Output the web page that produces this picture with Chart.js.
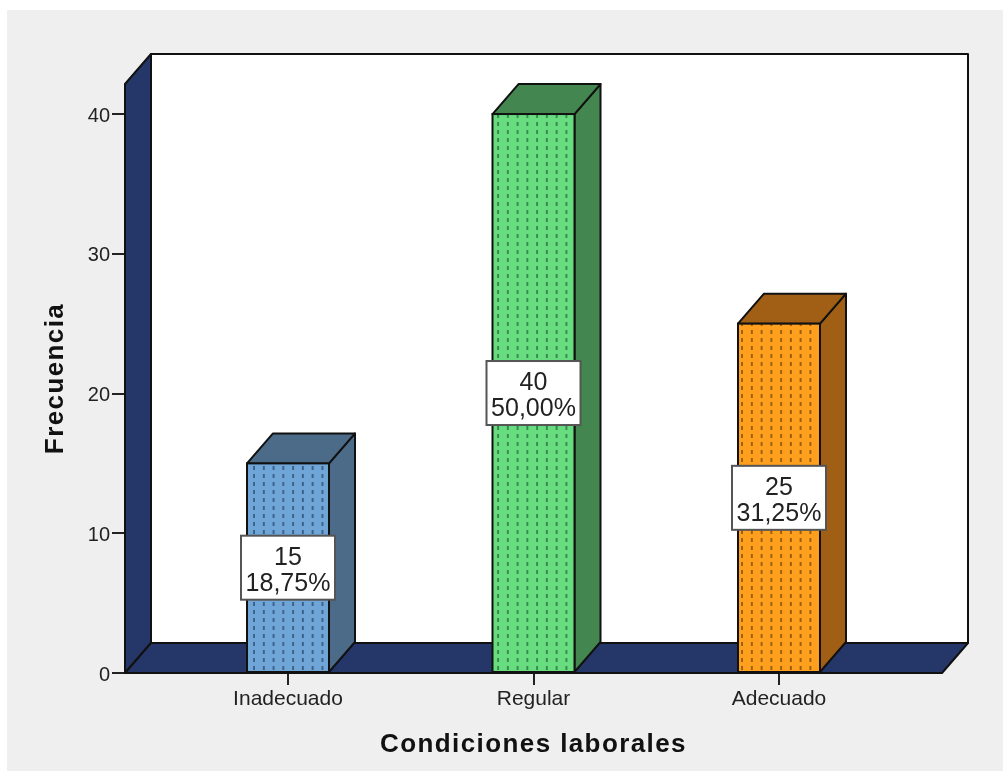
<!DOCTYPE html>
<html lang="es">
<head>
<meta charset="utf-8">
<title>Condiciones laborales</title>
<script src="https://cdn.jsdelivr.net/npm/chart.js@4"></script>
<style>
  html, body { margin: 0; padding: 0; background: #fff; }
  #wrap { position: absolute; left: 0; top: 0; width: 1003px; height: 771px; }
  canvas { display: block; }
</style>
</head>
<body>
<div id="wrap"><canvas id="grafico" width="1003" height="771"></canvas></div>
<script>
const categories = ["Inadecuado", "Regular", "Adecuado"];
const frecuencias = [15, 40, 25];
const porcentajes = ["18,75%", "50,00%", "31,25%"];
const yTicks = [0, 10, 20, 30, 40];

const frontColors = ["#70a5d8", "#67dd80", "#ff9f1e"];
const sideColors = ["#4b6b88", "#43864f", "#a05f14"];
const dotColors = ["#3d6288", "#3a8a50", "#9a6010"];
const wallColor = "#253668";
const panelColor = "#efefef";

// how far the box recedes towards the back wall
const DEPTH_X = 26;
const DEPTH_Y = -30;
const FONT = '"Liberation Sans", Arial, sans-serif';

function dotPattern(bg, dot) {
  const tile = document.createElement("canvas");
  tile.width = 10;
  tile.height = 8;
  const c = tile.getContext("2d");
  c.fillStyle = bg;
  c.fillRect(0, 0, 10, 8);
  c.fillStyle = dot;
  c.fillRect(0, 2, 2, 4);
  const pattern = c.createPattern(tile, "repeat");
  pattern.setTransform(new DOMMatrix().translate(-0.7, 0).scale(0.976, 1));
  return pattern;
}

function poly(ctx, pts, fill) {
  ctx.beginPath();
  pts.forEach((p, i) => (i ? ctx.lineTo(p[0], p[1]) : ctx.moveTo(p[0], p[1])));
  ctx.closePath();
  ctx.fillStyle = fill;
  ctx.fill();
  ctx.stroke();
}

// grey panel behind everything, white back wall, navy side wall and floor
const walls = {
  id: "walls",
  beforeDraw(chart) {
    const ctx = chart.ctx;
    ctx.save();
    ctx.fillStyle = panelColor;
    ctx.fillRect(7, 10, chart.width - 7, chart.height - 10);
    ctx.restore();
  },
  beforeDatasetsDraw(chart) {
    const { ctx, chartArea: a } = chart;
    ctx.save();
    ctx.strokeStyle = "#111";
    ctx.lineWidth = 2;
    ctx.lineJoin = "round";
    poly(ctx, [[a.left + DEPTH_X, a.top + DEPTH_Y], [a.right + DEPTH_X, a.top + DEPTH_Y],
      [a.right + DEPTH_X, a.bottom + DEPTH_Y], [a.left + DEPTH_X, a.bottom + DEPTH_Y]], "#fff");
    poly(ctx, [[a.left, a.top], [a.left + DEPTH_X, a.top + DEPTH_Y],
      [a.left + DEPTH_X, a.bottom + DEPTH_Y], [a.left, a.bottom]], wallColor);
    poly(ctx, [[a.left, a.bottom], [a.left + DEPTH_X, a.bottom + DEPTH_Y],
      [a.right + DEPTH_X, a.bottom + DEPTH_Y], [a.right, a.bottom]], wallColor);
    // side and top of each bar sit behind the front face
    chart.getDatasetMeta(0).data.forEach((bar, i) => {
      const l = bar.x - bar.width / 2;
      const r = bar.x + bar.width / 2;
      poly(ctx, [[r, bar.y], [r + DEPTH_X, bar.y + DEPTH_Y],
        [r + DEPTH_X, bar.base + DEPTH_Y], [r, bar.base]], sideColors[i]);
      poly(ctx, [[l, bar.y], [l + DEPTH_X, bar.y + DEPTH_Y],
        [r + DEPTH_X, bar.y + DEPTH_Y], [r, bar.y]], sideColors[i]);
    });
    ctx.restore();
  },
  afterDatasetsDraw(chart) {
    const ctx = chart.ctx;
    ctx.save();
    chart.getDatasetMeta(0).data.forEach((bar, i) => {
      // outline of the front face
      ctx.strokeStyle = "#111";
      ctx.lineWidth = 2;
      ctx.strokeRect(bar.x - bar.width / 2, bar.y, bar.width, bar.base - bar.y);

      // value box, centred on the bar
      const cy = (bar.y + bar.base) / 2;
      ctx.fillStyle = "#fff";
      ctx.strokeStyle = "#555";
      ctx.fillRect(bar.x - 47, cy - 32, 94, 64);
      ctx.strokeRect(bar.x - 47, cy - 32, 94, 64);
      ctx.fillStyle = "#222";
      ctx.font = "25px " + FONT;
      ctx.textAlign = "center";
      ctx.textBaseline = "middle";
      ctx.fillText(String(frecuencias[i]), bar.x, cy - 10);
      ctx.fillText(porcentajes[i], bar.x, cy + 16);
    });
    ctx.restore();
  },
  // axis titles are set with wider tracking than the tick labels
  afterLayout(chart) {
    Object.values(chart.scales).forEach((scale) => {
      if (scale._tracked) return;
      scale._tracked = true;
      const drawTitle = scale.drawTitle;
      scale.drawTitle = function () {
        chart.ctx.letterSpacing = "1.4px";
        drawTitle.apply(this, arguments);
        chart.ctx.letterSpacing = "0px";
      };
    });
  }
};

new Chart(document.getElementById("grafico"), {
  type: "bar",
  data: {
    datasets: [{
      label: "Frecuencia",
      data: frecuencias.map((v, i) => ({ x: i, y: v })),
      backgroundColor: frontColors.map((c, i) => dotPattern(c, dotColors[i])),
      borderWidth: 0,
      barThickness: 82
    }]
  },
  options: {
    responsive: false,
    animation: false,
    events: [],
    layout: { padding: { top: 84, right: 61, left: 0, bottom: 0 } },
    plugins: { legend: { display: false }, tooltip: { enabled: false } },
    scales: {
      x: {
        type: "linear",
        offset: false,
        min: -0.664,
        max: 2.664,
        afterBuildTicks: (s) => { s.ticks = categories.map((_, i) => ({ value: i })); },
        afterFit: (s) => { s.height = 98; },
        grid: { offset: false, drawOnChartArea: false, color: "#222", lineWidth: 2, tickLength: 12 },
        border: { display: false },
        ticks: {
          autoSkip: false,
          maxRotation: 0,
          padding: 2,
          color: "#222",
          font: { family: FONT, size: 21 },
          callback: (v) => categories[v]
        },
        title: {
          display: true,
          text: "Condiciones laborales",
          color: "#111",
          font: { family: FONT, size: 26, weight: "bold" },
          padding: { top: 0, bottom: 11 }
        }
      },
      y: {
        min: 0,
        max: 42.15,
        afterBuildTicks: (s) => { s.ticks = yTicks.map((v) => ({ value: v })); },
        afterFit: (s) => { s.width = 125; },
        grid: { drawOnChartArea: false, color: "#222", lineWidth: 2, tickLength: 13 },
        border: { display: false },
        ticks: {
          padding: 2,
          labelOffset: 2,
          color: "#222",
          font: { family: FONT, size: 20 }
        },
        title: {
          display: true,
          text: "Frecuencia",
          color: "#111",
          font: { family: FONT, size: 26, weight: "bold" },
          padding: { top: 40, bottom: 0 }
        }
      }
    }
  },
  plugins: [walls]
});
</script>
</body>
</html>
